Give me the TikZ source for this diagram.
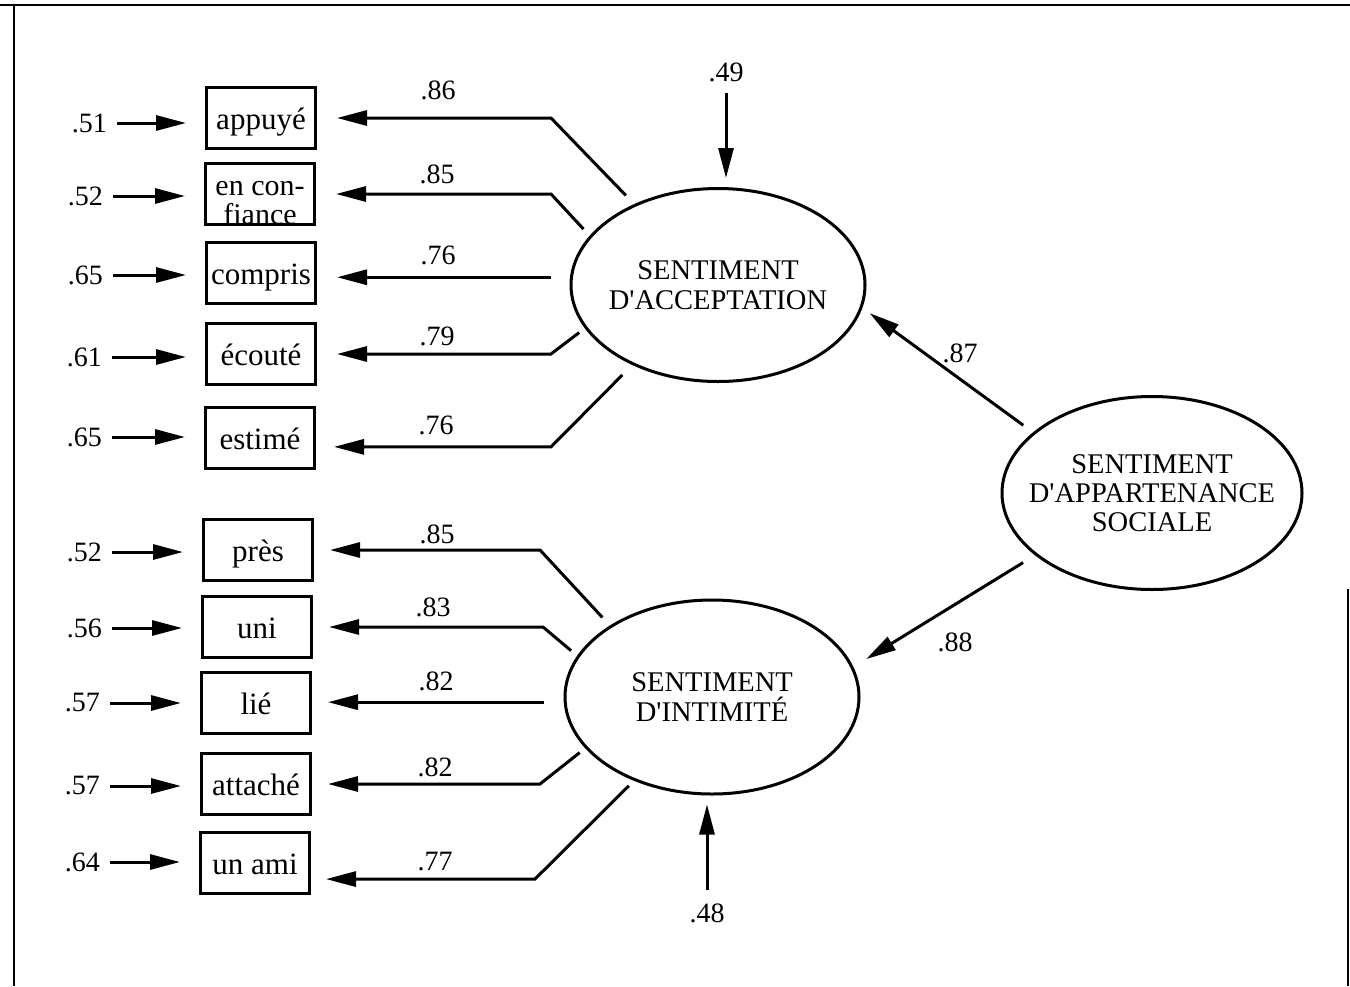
\documentclass[tikz,border=0pt]{standalone}
\usepackage{fontspec}
\setmainfont{Liberation Serif}
\usetikzlibrary{arrows.meta,shapes.geometric}
\begin{document}
\begin{tikzpicture}[x=1pt,y=-1pt,
  lw/.style={line width=3pt},
  obs/.style={draw,lw,minimum width=109pt,minimum height=61pt,inner sep=0pt,
    font=\fontsize{31}{29}\selectfont,align=center,text height=24pt,text depth=2pt},
  obstwo/.style={draw,lw,minimum width=109pt,minimum height=61pt,inner sep=0pt,
    font=\fontsize{30}{29}\selectfont,align=center},
  lat/.style={draw,lw,ellipse,inner sep=0pt},
  lattext/.style={inner sep=0pt,align=center,font=\fontsize{28.5}{30}\selectfont},
  num/.style={inner sep=0pt,font=\fontsize{28}{30}\selectfont},
  arr/.style={lw,-{Triangle[length=30pt,width=15pt]}},
  res/.style={arr,shorten <=10pt,shorten >=19pt},
  frame/.style={line width=2.8pt}]
\useasboundingbox (0,0) rectangle (1350,986);
% frame
\draw[frame] (0,5) -- (1350,5);
\draw[frame] (14,5) -- (14,986);
\draw[frame] (1348,589) -- (1348,986);

% observed variables
\node[obs] (appuye)    at (261,118) {appuyé};
\node[obstwo] (confiance) at (260,194) {\rule{0pt}{32pt}en con-\\fiance};
\node[obs] (compris)   at (261,273) {compris};
\node[obs] (ecoute)    at (261,354) {écouté};
\node[obs] (estime)    at (260,438) {estimé};
\node[obs] (pres)      at (258,550) {près};
\node[obs] (uni)       at (257,627) {uni};
\node[obs] (lie)       at (256,703) {lié};
\node[obs] (attache)   at (256,784) {attaché};
\node[obs] (unami)     at (255,863) {un ami};

% latent variables
\node[lat,minimum width=294pt,minimum height=193pt] (acc) at (718,285) {};
\node[lattext] (acct) at (acc.center) {SENTIMENT\\D\textquotesingle ACCEPTATION};
\node[lat,minimum width=294pt,minimum height=194pt] (int) at (712,697) {};
\node[lattext] (intt) at (int.center) {SENTIMENT\\D\textquotesingle INTIMITÉ};
\node[lat,minimum width=300pt,minimum height=193pt] (app) at (1152,493) {};
\node[lattext,font=\fontsize{28.5}{29}\selectfont] (appt) at (app.center)
  {SENTIMENT\\D\textquotesingle APPARTENANCE\\SOCIALE};

% residuals of observed variables
\node[num,anchor=east] (r1)  at (107,123) {.51};
\node[num,anchor=east] (r2)  at (103,196) {.52};
\node[num,anchor=east] (r3)  at (103,275) {.65};
\node[num,anchor=east] (r4)  at (102,357) {.61};
\node[num,anchor=east] (r5)  at (102,437) {.65};
\node[num,anchor=east] (r6)  at (102,552) {.52};
\node[num,anchor=east] (r7)  at (102,628) {.56};
\node[num,anchor=east] (r8)  at (100,703) {.57};
\node[num,anchor=east] (r9)  at (100,786) {.57};
\node[num,anchor=east] (r10) at (100,862) {.64};
\draw[res] (r1.east)  -- (r1.east -| appuye.west);
\draw[res] (r2.east)  -- (r2.east -| confiance.west);
\draw[res] (r3.east)  -- (r3.east -| compris.west);
\draw[res] (r4.east)  -- (r4.east -| ecoute.west);
\draw[res] (r5.east)  -- (r5.east -| estime.west);
\draw[res] (r6.east)  -- (r6.east -| pres.west);
\draw[res] (r7.east)  -- (r7.east -| uni.west);
\draw[res] (r8.east)  -- (r8.east -| lie.west);
\draw[res] (r9.east)  -- (r9.east -| attache.west);
\draw[res] (r10.east) -- (r10.east -| unami.west);

% loadings: acceptation
\draw[arr,shorten <=12pt,shorten >=20pt] (acc.136) -- (551,0 |- appuye.east) -- (appuye.east);
\draw[arr,shorten <=9pt,shorten >=20pt] (acc.159) -- (551,0 |- confiance.east) -- (confiance.east);
\draw[arr,shorten <=19pt,shorten >=20pt] (acc.177) -- (acc.177 -| compris.east);
\draw[arr,shorten <=7pt,shorten >=20pt] (acc.198) -- (551,0 |- ecoute.east) -- (ecoute.east);
\draw[arr,shorten <=14pt,shorten >=18pt] (acc.223) -- (551,0 |- estime.351) -- (estime.351);
\node[num] (l1) at (438,90)  {.86};
\node[num] (l2) at (437,174) {.85};
\node[num] (l3) at (438,255) {.76};
\node[num] (l4) at (437,336) {.79};
\node[num] (l5) at (436,425) {.76};

% loadings: intimite
\draw[arr,shorten <=11pt,shorten >=16pt] (int.145) -- (540,0 |- pres.east) -- (pres.east);
\draw[arr,shorten <=8pt,shorten >=16pt] (int.163.5) -- (543,0 |- uni.east) -- (uni.east);
\draw[arr,shorten <=20pt,shorten >=16pt] (int.182) -- (int.182 -| lie.east);
\draw[arr,shorten <=7pt,shorten >=16pt] (int.202) -- (540,0 |- attache.east) -- (attache.east);
\draw[arr,shorten <=7pt,shorten >=15pt] (int.227) -- (535,0 |- unami.344.6) -- (unami.344.6);
\node[num] (l6)  at (437,534) {.85};
\node[num] (l7)  at (433,607) {.83};
\node[num] (l8)  at (436,681) {.82};
\node[num] (l9)  at (435,767) {.82};
\node[num] (l10) at (435,862) {.77};

% structural paths
\draw[arr,shorten <=12pt,shorten >=9pt] (app.153.4) -- (acc.351.4);
\draw[arr,shorten <=14pt,shorten >=15pt] (app.208.5) -- (int.12);
\node[num] (s1) at (960,353) {.87};
\node[num] (s2) at (955,642) {.88};

% disturbances
\node[num] (z1) at (726,72)  {.49};
\node[num] (z2) at (707,913) {.48};
\draw[arr,shorten <=11pt,shorten >=9pt] (z1.south) -- (z1.south |- acc.north);
\draw[arr,shorten <=13pt,shorten >=9pt] (z2.north) -- (z2.north |- int.south);
\end{tikzpicture}
\end{document}
